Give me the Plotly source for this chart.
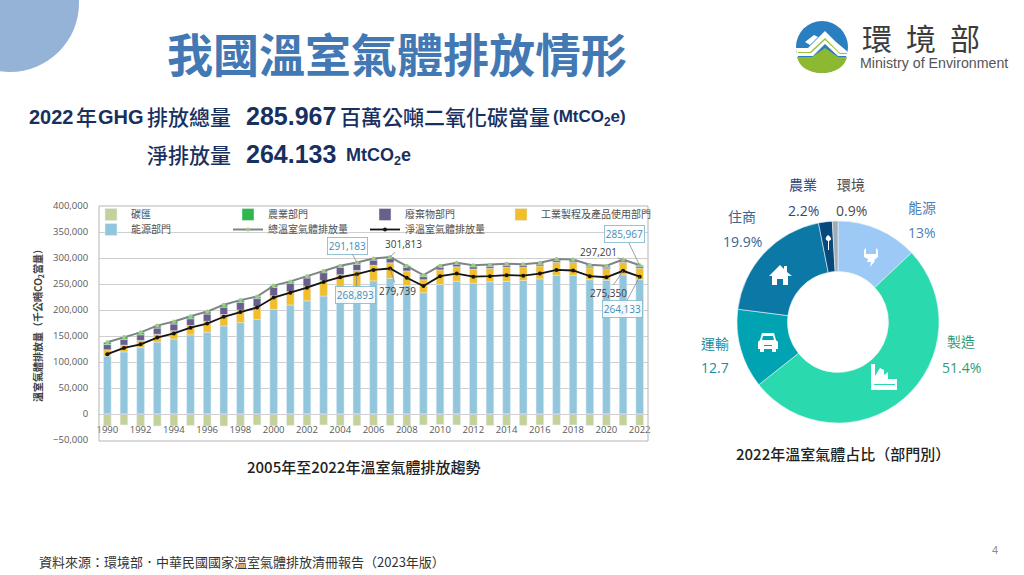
import re
import plotly.graph_objects as go

W, H = 1024, 575
years = list(range(1990, 2023))
energy = [111500,119400,127400,138300,144200,152200,157300,169400,175700,182000,201400,209600,217700,226800,236900,245000,256000,260800,247100,233200,249200,255200,251700,254200,255200,256800,259800,266800,266300,258300,257300,267600,258400]
industry = [12000,13000,14000,15000,16000,18000,21000,22000,24000,25000,26000,26000,28000,30000,31000,31000,30000,30000,28000,25000,28000,28000,27000,26000,27000,25000,25000,25000,25000,23000,22000,24000,22000]
waste = [10000,11000,11000,12000,13000,13000,14000,14000,15000,15000,16000,16000,16000,15000,14000,12000,10000,8000,7000,6000,5000,5000,4500,4000,4000,3500,3500,3500,3000,3000,3000,3000,3000]
agri = [4500,4600,4600,4700,4800,4800,4700,4600,4300,4000,3600,3400,3300,3200,3100,3100,3000,3000,2900,2800,2800,2800,2800,2800,2800,2700,2700,2700,2700,2700,2700,2600,2600]
sink = [-23000,-21000,-23000,-23000,-23000,-22000,-23000,-23000,-23000,-21000,-23000,-22000,-22000,-21000,-22000,-22290,-22000,-22074,-23000,-21000,-20000,-21000,-22000,-22000,-22000,-22000,-21000,-21000,-21000,-22000,-22000,-21851,-21834]
total = [138000,148000,157000,170000,178000,188000,197000,210000,219000,226000,247000,255000,265000,275000,285000,291183,299000,301813,285000,267000,285000,291000,286000,287000,289000,288000,291000,298000,297000,287000,285000,297201,285967]
net = [115000,127000,134000,147000,155000,166000,174000,187000,196000,205000,224000,233000,243000,254000,263000,268893,277000,279739,262000,246000,265000,270000,264000,265000,267000,266000,270000,277000,276000,265000,263000,275350,264133]

pie_labels = ["能源", "製造", "運輸", "住商", "農業", "環境"]
pie_values = [13, 51.4, 12.7, 19.9, 2.2, 0.9]
pie_colors = ["#9CC9F5", "#2BD9AE", "#00A3B2", "#0B78A6", "#07497A", "#A3ABB3"]

CJK = "Noto Sans CJK TC"
LAT = "Liberation Sans"
NAVY = "#17305F"

def fx(v): return v / W
def fy(v): return 1 - v / H

def pth(s):
    toks = re.findall(r"[MLQCZ]|-?\d+\.?\d*", s)
    out, i = [], 0
    for t in toks:
        if t in "MLQCZ":
            out.append(t)
            i = 0
        else:
            out.append(f"{fx(float(t)) if i % 2 == 0 else fy(float(t)):.5f}")
            i += 1
    return " ".join(out)

shapes, ann = [], []

def path(s, fill, line=None, lw=0):
    shapes.append(dict(type="path", xref="paper", yref="paper", path=pth(s), fillcolor=fill,
                       line=dict(color=line or "rgba(0,0,0,0)", width=lw), layer="above"))

def circle(cx, cy, r, fill):
    shapes.append(dict(type="circle", xref="paper", yref="paper", x0=fx(cx-r), x1=fx(cx+r),
                       y0=fy(cy+r), y1=fy(cy-r), fillcolor=fill, line=dict(width=0), layer="above"))

def txt(x, y, s, size, color, anchor="center", font=CJK, weight=400):
    ann.append(dict(xref="paper", yref="paper", x=fx(x), y=fy(y), text=s,
                    showarrow=False, xanchor=anchor, yanchor="middle",
                    font=dict(family=font, size=size, color=color, weight=weight)))

def callout(yr, val, ax, ay, boxed):
    c = "#3F8DB8" if boxed else "#404040"
    ann.append(dict(x=yr, y=val, xref="x", yref="y", text=f"{val:,}", showarrow=True, arrowhead=0,
                    arrowwidth=0.8, arrowcolor="#8A8A8A", ax=ax, ay=ay, axref="pixel", ayref="pixel",
                    font=dict(family="Open Sans", size=10, color=c),
                    bgcolor="rgba(255,255,255,0.85)" if boxed else "rgba(0,0,0,0)",
                    bordercolor="#7DB4CC" if boxed else "rgba(0,0,0,0)", borderwidth=0.8 if boxed else 0, borderpad=1))

# Decoration
circle(10, 3, 69, "#94B3D6")

# Logo
circle(822, 47, 26, "#2A7FC1")
path("M797 57 L812 57 L825 48 L838 57 L847 57 C845 67 835 73 822 73 C809 73 799 67 797 57 Z", "#8DB832")
path("M796 48 L808 48 L818 38 L825 31 L836 42 L848 52 L848 56 L838 56 L825 44 L813 56 L797 56 Z", "#FFFFFF")
path("M798 52 L810 52 L825 38 L840 53 L847 53 L847 54 L840 54 L825 40 L811 53 L798 53 Z", "#9CC03C")
path("M805 42 L814 35 L818 37 L810 45 Z", "#FFFFFF")
txt(877, 37, "環", 30, "#3C3C3C")
txt(921, 37, "境", 30, "#3C3C3C")
txt(965, 37, "部", 30, "#3C3C3C")
txt(934, 63, "Ministry of Environment", 14.2, "#555555", font=LAT)

# Title block
txt(397, 52, "我國溫室氣體排放情形", 46, "#4279B4", weight=700)
txt(27, 117, "2022", 20, NAVY, "left", font=LAT, weight=700)
txt(74, 116, "年", 21, NAVY, "left", weight=500)
txt(96, 117, "GHG", 20, NAVY, "left", font=LAT, weight=700)
txt(145, 116, "排放總量", 21, NAVY, "left", weight=500)
txt(244, 116, "285.967", 25, NAVY, "left", font=LAT, weight=700)
txt(338, 116, "百萬公噸二氧化碳當量", 21, NAVY, "left", weight=500)
txt(551, 118, "(MtCO<sub>2</sub>e)", 17, NAVY, "left", font=LAT, weight=700)
txt(145, 154, "淨排放量", 21, NAVY, "left", weight=500)
txt(244, 154, "264.133", 25, NAVY, "left", font=LAT, weight=700)
txt(344, 156, "MtCO<sub>2</sub>e", 18, NAVY, "left", font=LAT, weight=700)

# Captions and footer
txt(363, 466, "2005年至2022年溫室氣體排放趨勢", 15, "#222222", weight=500)
txt(843, 453, "2022年溫室氣體占比（部門別）", 15, "#222222", weight=500)
txt(37, 561, "資料來源：環境部．中華民國國家溫室氣體排放清冊報告（2023年版）", 13, "#333333", "left")
txt(995, 550, "4", 11, "#8C8C8C", font=LAT)

# Donut labels
for (x, y1, y2, name, pct, col) in [
    (922, 207, 232, "能源", "13%", "#4F7FB8"),
    (961, 341, 367, "製造", "51.4%", "#2F9C78"),
    (715, 343, 367, "運輸", "12.7", "#1F8C9C"),
    (742, 216, 241, "住商", "19.9%", "#3A6590"),
    (803, 184, 210, "農業", "2.2%", "#33467A"),
    (851, 184, 210, "環境", "0.9%", "#4A4A4A"),
]:
    txt(x, y1, name, 14, col)
    txt(x, y2, pct, 14, col, font="Open Sans")

# Donut icons
WHITE = "#FFFFFF"
path("M769 276 L780 265 L784 269 L784 266 L787 266 L787 272 L792 276 L788 276 L788 285 L783 285 L783 279 L777 279 L777 285 L772 285 L772 276 Z", WHITE)
path("M760 340 L762 333 L774 333 L776 340 L778 342 L778 349 L776 349 L776 352 L772 352 L772 349 L764 349 L764 352 L760 352 L760 349 L758 349 L758 342 Z", WHITE)
path("M763 336 L773 336 L774 340 L762 340 Z", "#00A3B2")
path("M764 345 L772 345 L772 346 L764 346 Z", "#00A3B2")
path("M871 390 L871 364 L875 364 L875 376 L880 368 L884 370 L884 375 L888 372 L888 379 L897 379 L897 390 Z", WHITE)
path("M874 384 L895 384 L895 385 L874 385 Z", "#2BD9AE")
path("M864 250 L866 248 L866 254 L876 254 L876 248 L878 250 L878 257 L874 260 L875 261 L870 267 L871 262 L867 262 L868 259 L864 257 Z", WHITE)
path("M828 250 L828 241 C825 240 825 238 828 235 C832 238 832 240 829 241 L829 250 Z", WHITE)

fig = go.Figure()
bar_kw = dict(x=years, width=0.46)
fig.add_bar(y=energy, name="能源部門", marker_color="#92C6DC", legend="legend2", legendrank=1, **bar_kw)
fig.add_bar(y=industry, name="工業製程及產品使用部門", marker_color="#F2BE2A", legend="legend3", **bar_kw)
fig.add_bar(y=waste, name="廢棄物部門", marker_color="#6A5E8C", legendrank=3, **bar_kw)
fig.add_bar(y=agri, name="農業部門", marker_color="#2EB84C", legendrank=2, **bar_kw)
fig.add_bar(y=sink, name="碳匯", marker_color="#C4D199", legendrank=1, **bar_kw)
fig.add_scatter(x=years, y=total, name="總溫室氣體排放量", mode="lines+markers", legend="legend2", legendrank=2,
                line=dict(color="#7F8585", width=2), marker=dict(size=4, color="#A5C88A"))
fig.add_scatter(x=years, y=net, name="淨溫室氣體排放量", mode="lines+markers", legend="legend2", legendrank=3,
                line=dict(color="#141414", width=1.8), marker=dict(size=4, color="#141414"))
fig.add_pie(labels=pie_labels, values=pie_values, sort=False, direction="clockwise", rotation=0,
            hole=0.5, textinfo="none", showlegend=False,
            marker=dict(colors=pie_colors, line=dict(color="#E8F4F4", width=0.6)),
            domain=dict(x=[fx(737), fx(939)], y=[fy(423), fy(221)]))

callout(2005, 291183, -9, -17, True)
callout(2005, 268893, -1, 21, True)
callout(2007, 301813, 13, -13, False)
callout(2007, 279739, 7, 22, False)
callout(2021, 297201, -25, -7, False)
callout(2022, 285967, -15, -31, True)
callout(2021, 275350, -15, 22, False)
callout(2022, 264133, -17, 32, True)

shapes.append(dict(type="rect", xref="paper", yref="paper", x0=fx(99), x1=fx(648), y0=fy(441), y1=fy(206),
                   line=dict(color="#B5B5B5", width=1), layer="above"))

zero_pos = fy(414)
legend_common = dict(orientation="h", xanchor="left", yanchor="top",
                     entrywidth=92, entrywidthmode="pixels", itemwidth=30, bgcolor="rgba(0,0,0,0)",
                     font=dict(family=CJK, size=10, color="#505050"))
fig.update_layout(
    width=W, height=H, autosize=False, margin=dict(l=0, r=0, t=0, b=0),
    paper_bgcolor="#FFFFFF", plot_bgcolor="#FFFFFF", barmode="relative",
    font=dict(family=CJK),
    shapes=shapes, annotations=ann,
    xaxis=dict(domain=[fx(99), fx(648)], range=[1989.5, 2022.5], tick0=1990, dtick=2, automargin=False,
               anchor="free", position=zero_pos, showgrid=False, zeroline=False,
               ticks="outside", ticklen=7, tickcolor="rgba(0,0,0,0)", showline=True, linecolor="#D0D0D0",
               tickfont=dict(family="Open Sans", size=9.5, color="#595959")),
    yaxis=dict(domain=[fy(440), fy(206)], range=[-50000, 400000], dtick=50000, tickformat=",d", automargin=False,
               gridcolor="#CFCFCF", gridwidth=1, zeroline=False, showline=False,
               ticks="outside", ticklen=8, tickcolor="rgba(0,0,0,0)",
               tickfont=dict(family="Open Sans", size=9.5, color="#595959"),
               title=dict(text="<b>溫室氣體排放量（千公噸CO<sub>2</sub>當量）</b>", standoff=8,
                          font=dict(family=CJK, size=10, color="#404040"))),
    legend=dict(x=fx(91), y=fy(200), **legend_common),
    legend2=dict(x=fx(91), y=fy(215), **legend_common),
    legend3=dict(x=fx(501), y=fy(200), orientation="h", xanchor="left", yanchor="top", itemwidth=30,
                 bgcolor="rgba(0,0,0,0)", font=dict(family=CJK, size=10, color="#505050")),
)
fig.write_html("out.html", config=dict(displayModeBar=False),
               post_script="document.body.style.margin='0';document.body.style.overflow='hidden';")
